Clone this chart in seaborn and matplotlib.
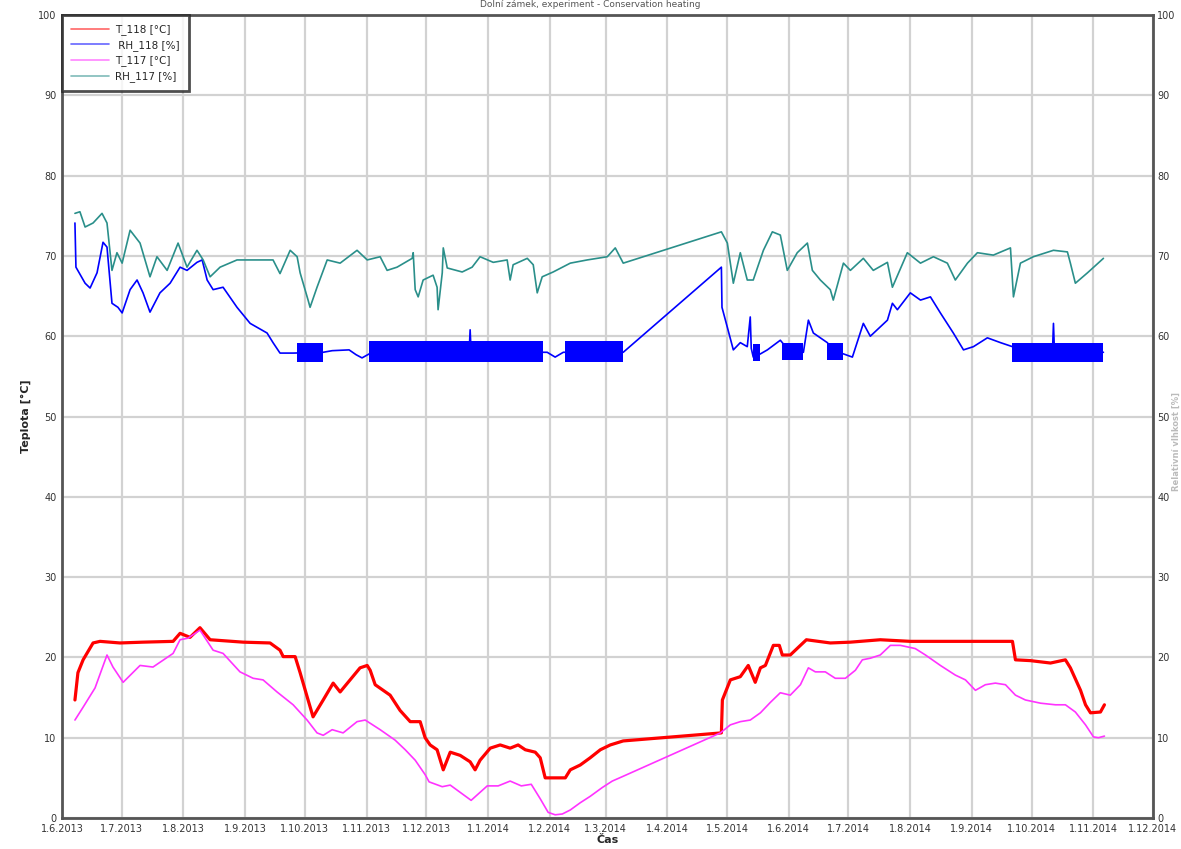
import pandas as pd
import numpy as np
import seaborn as sns
import matplotlib.pyplot as plt
import matplotlib.dates as mdates
from matplotlib.ticker import FuncFormatter

# days counted from 1.6.2013
START = pd.Timestamp('2013-06-01')

rh117_day = [6.5, 9.0, 11.6, 15.6, 20.1, 22.6, 25.1, 27.6, 30.2, 34.2, 39.2, 44.2, 47.7, 52.8,
             58.3, 62.8, 67.8, 70.9, 74.4, 79.4, 87.9, 94.5, 99.5, 106, 109.5, 114.6, 118.1,
             119.6, 123.6, 124.6, 128.1, 133.2, 139.7, 148.2, 153.3, 159.8, 163.3, 168.3,
             175.9, 176.4, 177.4, 178.9, 181.4, 186.4, 188.4, 188.9, 191, 191.5, 193.5, 201,
             206, 210, 216.6, 223.6, 225.1, 226.6, 233.7, 236.7, 238.7, 241.2, 246.7, 255.3,
             263.8, 273.9, 277.9, 281.9,
             331.2, 334.2, 337.2, 340.7, 344.2, 347.2, 352.3, 356.8, 360.8, 364.3, 369.3,
             374.4, 376.9, 380.9, 385.9, 387.4, 392.5, 396, 402.5, 407.5, 414.6, 417.1,
             424.6, 431.2, 437.7, 444.7, 448.7, 454.8, 459.8, 467.8, 476.4, 477.9, 481.4,
             487.9, 498, 505, 506.5, 509, 515.1, 523.1]
rh117_val = [75.3, 75.5, 73.6, 74.1, 75.3, 74.1, 68.2, 70.4, 69.1, 73.2, 71.6, 67.4, 69.9, 68.2,
             71.6, 68.6, 70.7, 69.5, 67.4, 68.6, 69.5, 69.5, 69.5, 69.5, 67.8, 70.7, 69.9,
             67.9, 64.5, 63.6, 66.1, 69.5, 69.1, 70.7, 69.5, 69.9, 68.2, 68.6,
             69.7, 70.4, 65.8, 64.9, 67.0, 67.6, 66.1, 63.3, 67.9, 71.0, 68.5, 68.0,
             68.6, 69.9, 69.2, 69.5, 67.0, 68.9, 69.7, 68.9, 65.4, 67.4, 68.0, 69.1,
             69.5, 69.9, 71.0, 69.1,
             73.0, 71.6, 66.6, 70.4, 67.0, 67.0, 70.7, 73.0, 72.6, 68.2, 70.4,
             71.6, 68.2, 67.0, 65.8, 64.5, 69.1, 68.2, 69.7, 68.2, 69.2, 66.1,
             70.4, 69.1, 69.9, 69.1, 67.0, 69.1, 70.4, 70.1, 71.0, 64.9, 69.1,
             69.9, 70.7, 70.5, 69.1, 66.6, 67.9, 69.7]

rh118_day = [6.5, 7, 11.6, 14.1, 17.6, 20.6, 22.6, 25.1, 28.1, 30.2, 34.2, 37.7, 40.7, 44.2,
             49.2, 54.3, 59.3, 62.8, 67.8, 70.4, 72.9, 75.9, 80.9, 87.9, 94.5, 103, 106,
             109.5, 116.1, 131.2, 135.7, 144.2, 147.7, 150.7, 154.3, 204.5, 205, 205.5,
             241.7, 243.7, 247.7, 251.8, 281.9,
             331.2, 331.5, 334.2, 337.2, 340.7, 344.2, 345.7, 346.2, 347.2, 350.8, 354.3,
             360.8, 365.8, 372.4, 374.9, 377.4, 384.4, 388.4, 392.5, 397, 402.5, 406,
             414.6, 417.1, 419.6, 426.1, 431.2, 436.2, 441.2, 447.7, 452.8, 457.8, 464.8,
             471.4, 477.4, 486.4, 497.5, 498, 498.5, 511.6, 523.1]
rh118_val = [74.1, 68.6, 66.6, 66.0, 67.9, 71.7, 71.1, 64.1, 63.6, 62.9, 65.8, 67.0, 65.4, 63.0,
             65.4, 66.6, 68.6, 68.2, 69.2, 69.5, 67.0, 65.8, 66.1, 63.6, 61.6, 60.4, 59.2,
             57.9, 57.9, 58.0, 58.2, 58.3, 57.7, 57.3, 57.8, 58.0, 60.8, 58.0,
             58.0, 58.0, 57.4, 58.0, 58.0,
             68.6, 63.6, 61.1, 58.3, 59.2, 58.7, 62.4, 58.5, 57.4, 57.8, 58.3,
             59.5, 58.0, 58.0, 62.0, 60.4, 59.2, 58.0, 57.8, 57.4, 61.6, 60.0,
             62.0, 64.1, 63.3, 65.4, 64.5, 64.9, 62.9, 60.4, 58.3, 58.7, 59.8,
             59.2, 58.7, 58.0, 58.0, 61.6, 58.0, 58.0, 58.0]

# periods where RH_118 flickers between two readings
band_start = [118.1, 154.3, 252.8, 347.2, 361.8, 384.4, 477.4]
band_end = [131.2, 241.7, 281.9, 350.8, 372.4, 392.5, 523.1]
band_lo = [56.8, 56.8, 56.8, 56.9, 57.0, 57.0, 56.8]
band_hi = [59.2, 59.4, 59.4, 59.0, 59.2, 59.2, 59.2]

t118_day = [6.5, 8, 10.6, 15.6, 19.1, 29.1, 40.7, 55.8, 59.3, 64.3, 69.3, 74.4, 91, 104.5,
            109.5, 111.1, 117.1, 119.6, 123.6, 126.1, 131.2, 136.2, 139.7, 144.7, 149.7,
            153.3, 154.8, 157.3, 164.8, 169.8, 174.9, 179.9, 182.4, 184.9, 188.4, 191.5,
            195, 200, 205, 207.5, 210, 215.1, 220.1, 225.1, 229.1, 232.7, 237.7, 240.2,
            242.7, 252.8, 255.3, 260.3, 265.3, 270.4, 275.4, 281.9,
            331.2, 331.7, 335.7, 340.7, 344.7, 348.2, 350.8, 353.3, 357.3, 360.3, 361.8,
            365.8, 370.9, 373.9, 385.9, 396, 411, 426.1, 446.2, 477.4, 478.9, 486.4,
            496.5, 504, 506.5, 511.6, 514.1, 516.6, 521.6, 523.6]
t118_val = [14.7, 18.1, 19.7, 21.8, 22.0, 21.8, 21.9, 22.0, 23.0, 22.5, 23.7, 22.2, 21.9, 21.8,
            20.9, 20.1, 20.1, 18.1, 14.7, 12.6, 14.7, 16.8, 15.7, 17.2, 18.7,
            19.0, 18.4, 16.6, 15.3, 13.4, 12.0, 12.0, 10.0, 9.1, 8.5, 6.0,
            8.2, 7.8, 7.0, 6.0, 7.2, 8.7, 9.1, 8.7, 9.1, 8.5, 8.2, 7.5,
            5.0, 5.0, 6.0, 6.6, 7.5, 8.5, 9.1, 9.6,
            10.6, 14.7, 17.2, 17.6, 19.0, 16.9, 18.7, 19.0, 21.5, 21.5, 20.3,
            20.3, 21.5, 22.2, 21.8, 21.9, 22.2, 22.0, 22.0, 22.0, 19.7, 19.6,
            19.3, 19.7, 18.7, 15.9, 14.1, 13.1, 13.2, 14.1]

t117_day = [6.5, 10.6, 16.6, 22.6, 25.6, 30.7, 39.2, 45.7, 55.8, 59.3, 63.3, 69.3, 75.9,
            80.9, 89.4, 96, 101, 108, 116.1, 123.1, 128.1, 131.2, 135.7, 141.2, 148.2,
            152.3, 159.8, 167.3, 172.4, 177.4, 182.4, 184.4, 191, 195, 205.5, 213.6,
            219.1, 225.1, 230.7, 235.7, 240.2, 244.2, 247.7, 251.3, 255.3, 260.3, 265.3,
            271.4, 276.4, 281.9,
            330.7, 335.7, 340.7, 345.7, 350.8, 355.8, 360.8, 365.8, 370.9, 374.9, 378.4,
            383.4, 388.4, 393.5, 398.5, 402, 406, 411, 416.1, 421.1, 428.6, 433.7, 441.2,
            448.7, 453.8, 458.8, 463.8, 468.8, 473.9, 478.9, 483.9, 491.5, 499, 504, 509,
            514.1, 518.1, 520.6, 523.6]
t117_val = [12.2, 13.8, 16.2, 20.3, 18.8, 16.9, 19.0, 18.8, 20.5, 22.2, 22.4, 23.4, 20.9,
            20.5, 18.2, 17.4, 17.2, 15.7, 14.1, 12.2, 10.6, 10.3, 11.0, 10.6, 12.0,
            12.2, 11.0, 9.7, 8.5, 7.2, 5.4, 4.5, 3.9, 4.1, 2.2, 4.0,
            4.0, 4.6, 4.0, 4.2, 2.4, 0.7, 0.4, 0.5, 1.0, 1.9, 2.7,
            3.8, 4.6, 5.2,
            10.6, 11.6, 12.0, 12.2, 13.1, 14.4, 15.6, 15.3, 16.6, 18.7, 18.2,
            18.2, 17.4, 17.4, 18.4, 19.7, 19.9, 20.3, 21.5, 21.5, 21.1, 20.3, 19.0,
            17.8, 17.2, 15.9, 16.6, 16.8, 16.6, 15.3, 14.7, 14.3, 14.1, 14.1, 13.2,
            11.6, 10.1, 10.0, 10.2]

series = [
    ('T_118 [°C]', t118_day, t118_val, '#ff0000', 2.3),
    (' RH_118 [%]', rh118_day, rh118_val, '#0000ff', 1.2),
    ('T_117 [°C]', t117_day, t117_val, '#ff33ff', 1.2),
    ('RH_117 [%]', rh117_day, rh117_val, '#2a8f8a', 1.2),
]


def to_dates(days):
    return START + pd.to_timedelta(np.array(days), unit='D')


sns.set_style('white')
plt.rcParams['font.family'] = ['DejaVu Sans']

fig = plt.figure(figsize=(11.81, 8.49), dpi=100)
ax = fig.add_axes([0.0525, 0.0365, 0.9238, 0.9458])

for label, days, vals, color, lw in series:
    df = pd.DataFrame({'Čas': to_dates(days), 'value': vals})
    sns.lineplot(data=df, x='Čas', y='value', color=color, linewidth=lw,
                 label=label, ax=ax, estimator=None, sort=False)

# flickering blue blocks
for s, e, lo, hi in zip(band_start, band_end, band_lo, band_hi):
    ax.fill_between(to_dates([s, e]), [lo, lo], [hi, hi], color='#0000ff', lw=0, zorder=2)

ax.set_xlim(START, pd.Timestamp('2014-12-01'))
ax.set_ylim(0, 100)
ax.set_yticks(range(0, 101, 10))
ax.xaxis.set_major_locator(mdates.MonthLocator(bymonthday=1))
ax.xaxis.set_major_formatter(FuncFormatter(
    lambda v, p: f'{mdates.num2date(v).day}.{mdates.num2date(v).month}.{mdates.num2date(v).year}'))
ax.grid(True, color='#d2d2d2', linewidth=1.6)
ax.set_axisbelow(True)
ax.tick_params(axis='both', labelsize=7, colors='#333333', length=0, pad=4)
for sp in ax.spines.values():
    sp.set_color('#555555')
    sp.set_linewidth(2)

ax.set_xlabel('Čas', fontsize=8, fontweight='bold', labelpad=1)
ax.set_ylabel('Teplota [°C]', fontsize=8, fontweight='bold', labelpad=5)

ax2 = ax.twinx()
ax2.set_ylim(0, 100)
ax2.set_yticks(range(0, 101, 10))
ax2.tick_params(axis='y', labelsize=7, colors='#333333', length=0, pad=3)
for sp in ax2.spines.values():
    sp.set_visible(False)

leg = ax.legend(loc='upper left', fontsize=7.5, frameon=True, fancybox=False,
                borderaxespad=0, handlelength=3.6, handletextpad=0.6, borderpad=0.9,
                labelspacing=0.45)
leg.get_frame().set_edgecolor('#222222')
leg.get_frame().set_linewidth(2)
for line in leg.get_lines():
    line.set_linewidth(1.2)
    line.set_alpha(0.6)

fig.text(0.5, 0.9995, 'Dolní zámek, experiment - Conservation heating',
         ha='center', va='top', fontsize=6.5, color='#555555')
fig.text(0.9998, 0.48, 'Relativní vlhkost [%]', rotation=90, ha='right', va='center',
         fontsize=6, fontweight='bold', color='#bbbbbb')

fig.savefig('out.png', dpi=100)
